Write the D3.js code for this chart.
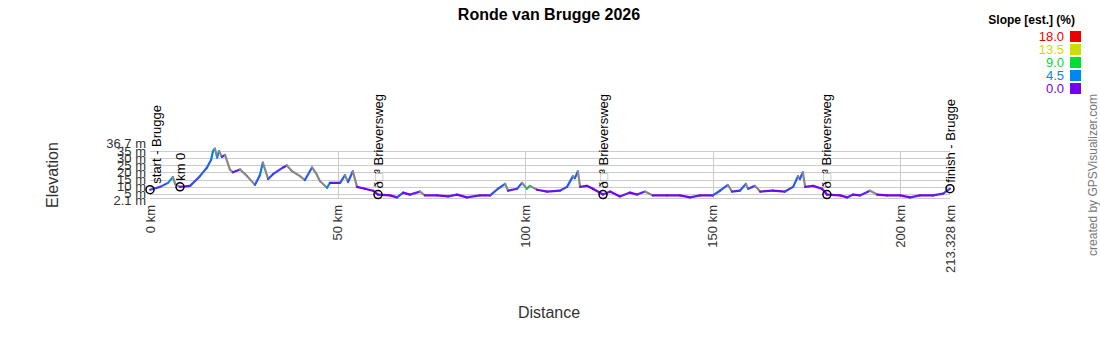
<!DOCTYPE html>
<html><head><meta charset="utf-8">
<script src="https://cdn.jsdelivr.net/npm/d3@7"></script>
<style>body{margin:0;background:#fff}svg{display:block;font-family:Arial,"Liberation Sans",sans-serif}</style>
</head><body><svg id="c" width="1100" height="350"></svg>
<script>
const title = "Ronde van Brugge 2026";
// distance (km), elevation (m), estimated slope of segment ending at point (%; negative = descent)
const dist = [0,2.7,4.8,6.1,6.7,8.0,10.7,13.3,15.2,16.3,16.8,17.3,17.9,18.4,19.2,20.0,21.3,22.1,24.0,25.9,28.0,29.3,30.1,31.5,32.8,35.5,36.5,37.9,40.0,41.3,43.2,44.3,45.3,47.2,48.0,50.7,52.0,52.8,54.1,55.2,57.3,59.5,60.8,
64.0,65.9,67.5,69.3,72.0,73.3,76.5,79.5,81.9,84.5,88.0,90.7,92.8,94.7,95.5,97.9,99.2,100.5,101.3,103.2,105.9,109.3,111.2,112.8,113.3,114.1,114.7,116.5,118.1,120.8,
122.7,125.3,128.0,129.9,132.0,134.1,137.9,141.3,144.0,146.7,150.1,152.0,154.1,155.2,157.3,158.9,159.5,161.3,162.7,166.1,169.3,171.5,172.8,173.3,174.1,174.7,176.8,179.2,180.5,
184.0,185.9,187.5,189.3,192.0,193.9,196.5,200.0,202.7,205.3,208.8,211.5,213.328];
const elev = [7.9,9.9,12.7,16.7,12.0,9.9,10.6,17.4,23.5,28.9,35.0,36.7,30.3,35.0,30.9,32.3,22.1,20.1,22.1,17.4,11.3,18.1,26.9,15.4,18.8,23.5,24.9,20.8,17.4,14.7,23.5,19.4,14.0,9.3,12.7,12.7,18.1,13.3,20.8,9.9,8.6,7.2,4.5,
3.9,2.5,5.9,4.5,6.6,3.9,3.9,3.2,4.5,2.5,3.9,3.9,8.6,12.0,7.2,8.6,12.7,8.6,10.6,7.9,6.6,7.2,9.9,17.4,16.0,20.8,9.9,10.6,8.6,4.5,
6.6,3.2,5.9,4.5,6.6,3.9,3.9,3.9,2.5,3.9,3.9,7.2,11.3,6.6,7.2,12.0,8.6,10.6,6.6,7.2,6.6,9.9,17.4,15.4,20.1,9.9,10.6,8.6,4.5,
3.9,2.5,4.5,3.9,7.2,4.5,3.9,3.9,2.5,3.9,3.9,5.2,8.6];
const slope = [0,2,2.5,5,-3,-1,0.5,2.5,3,3,4,5,-4,5,-3,1,-3,-1,1,-2,-2,3,4,-3,2.5,2,1,-2,-1,-1,3,-2,-2,-4,5,0.5,3,-2,3,-3,0,0,0,
0,0,2.5,0,1,-1,0,0,1,0,1,0,2.5,3,-3,1,3,-3,8,-1,0,0.5,2,3,-1,3,-4,0.5,0,0,
1,0,1,0,1,-1,0,0,0,1,0,2.5,3,-3,1,3,-3,2,-1,0.5,0,2,3,-1,3,-4,0.5,0,0,
0,0,1,0,1,-1,0,0,0,1,0,1,2];
const yTickVals = [2.1,5,10,15,20,25,30,35,36.7];
const xTickVals = [0,50,100,150,200,213.328];
const wpNames = ["start - Brugge","km 0","ð□³ Brieversweg","ð□³ Brieversweg","ð□³ Brieversweg","finish - Brugge"];
const wpDist = [0,8.0,60.8,120.8,180.5,213.328];
const wpElev = [7.9,9.9,4.5,4.5,4.5,8.6];
const legendVals = [18.0,13.5,9.0,4.5,0.0];
const legendColors = ["#ee0000","#ccdd00","#00dd33","#0088ee","#7700ee"];

const svg = d3.select("#c");
const x = d3.scaleLinear().domain([0,213.328]).range([150,950]);
const y = d3.scaleLinear().domain([2.1,36.7]).range([198,148.6]);
const col = d3.scaleLinear().domain([0,4.5,9,13.5,18]).range(legendColors.slice().reverse()).clamp(true);

// title
svg.append("text").attr("x",549).attr("y",20).attr("text-anchor","middle")
  .attr("font-size",16).attr("font-weight","bold").attr("fill","#000").text(title);

// grid
const grid = svg.append("g").attr("stroke","#cccccc").attr("stroke-width",1);
yTickVals.filter(v=>v!==36.7).forEach(v=>{
  grid.append("line").attr("x1",150).attr("x2",950).attr("y1",Math.round(y(v))+0.5).attr("y2",Math.round(y(v))+0.5);
});
xTickVals.filter(v=>v>0&&v<213).forEach(v=>{
  grid.append("line").attr("x1",Math.round(x(v))+0.5).attr("x2",Math.round(x(v))+0.5).attr("y1",y(35)).attr("y2",y(2.1));
});

// y labels
svg.append("g").selectAll("text").data(yTickVals).join("text")
  .attr("x",146).attr("y",d=>y(d) + (d===36.7?-5:(d===2.1?2:0))).attr("dy","0.35em")
  .attr("text-anchor","end").attr("font-size",13).attr("fill","#333")
  .text(d=>d+" m");

// x labels
svg.append("g").selectAll("text").data(xTickVals).join("text")
  .attr("transform",d=>`translate(${x(d)+4.5},205) rotate(-90)`)
  .attr("text-anchor","end").attr("font-size",13).attr("fill","#333")
  .text(d=>d+" km");

// axis titles
svg.append("text").attr("transform","translate(58,175) rotate(-90)").attr("text-anchor","middle")
  .attr("font-size",16).attr("fill","#333").text("Elevation");
svg.append("text").attr("x",549).attr("y",318).attr("text-anchor","middle")
  .attr("font-size",16).attr("fill","#333").text("Distance");

// profile segments
const segs = d3.range(1,dist.length).map(i=>({x1:dist[i-1],y1:elev[i-1],x2:dist[i],y2:elev[i],s:slope[i]}));
svg.append("g").attr("stroke-width",2.2).attr("stroke-linecap","round").selectAll("line").data(segs).join("line")
  .attr("x1",d=>x(d.x1)).attr("y1",d=>y(d.y1)).attr("x2",d=>x(d.x2)).attr("y2",d=>y(d.y2))
  .attr("stroke",d=>d.s<0?"#888888":col(d.s));

// waypoints
const wp = svg.append("g");
wpDist.forEach((d,i)=>{
  const cx = x(d), cy = y(wpElev[i]);
  wp.append("circle").attr("cx",cx).attr("cy",cy).attr("r",4).attr("fill","none").attr("stroke","#000").attr("stroke-width",1.5);
  const lx = i===0 ? cx+10.5 : cx+4.5;
  const t = wp.append("text").attr("transform",`translate(${lx},${cy-6}) rotate(-90)`)
    .attr("font-size",13).attr("fill","#000");
  const name = wpNames[i];
  if (name.indexOf("□")>=0){
    const parts = name.split("□");
    t.append("tspan").text(parts[0]);
    t.append("tspan").attr("fill","#999").text("□");
    t.append("tspan").text(parts[1]);
  } else t.text(name);
});

// legend
svg.append("text").attr("x",1075).attr("y",24).attr("text-anchor","end").attr("font-size",12)
  .attr("font-weight","bold").attr("fill","#000").text("Slope [est.] (%)");
const lg = svg.append("g");
legendVals.forEach((v,i)=>{
  const yy = 36.5 + i*13;
  lg.append("text").attr("x",1064).attr("y",yy).attr("dy","0.35em").attr("text-anchor","end")
    .attr("font-size",13).attr("fill",legendColors[i]).text(v.toFixed(1));
  lg.append("rect").attr("x",1070).attr("y",yy-5.5).attr("width",11).attr("height",11).attr("fill",legendColors[i]);
});

// credit
svg.append("text").attr("transform","translate(1097,175) rotate(-90)").attr("text-anchor","middle")
  .attr("font-size",12).attr("fill","#777").text("created by GPSVisualizer.com");
</script></body></html>
